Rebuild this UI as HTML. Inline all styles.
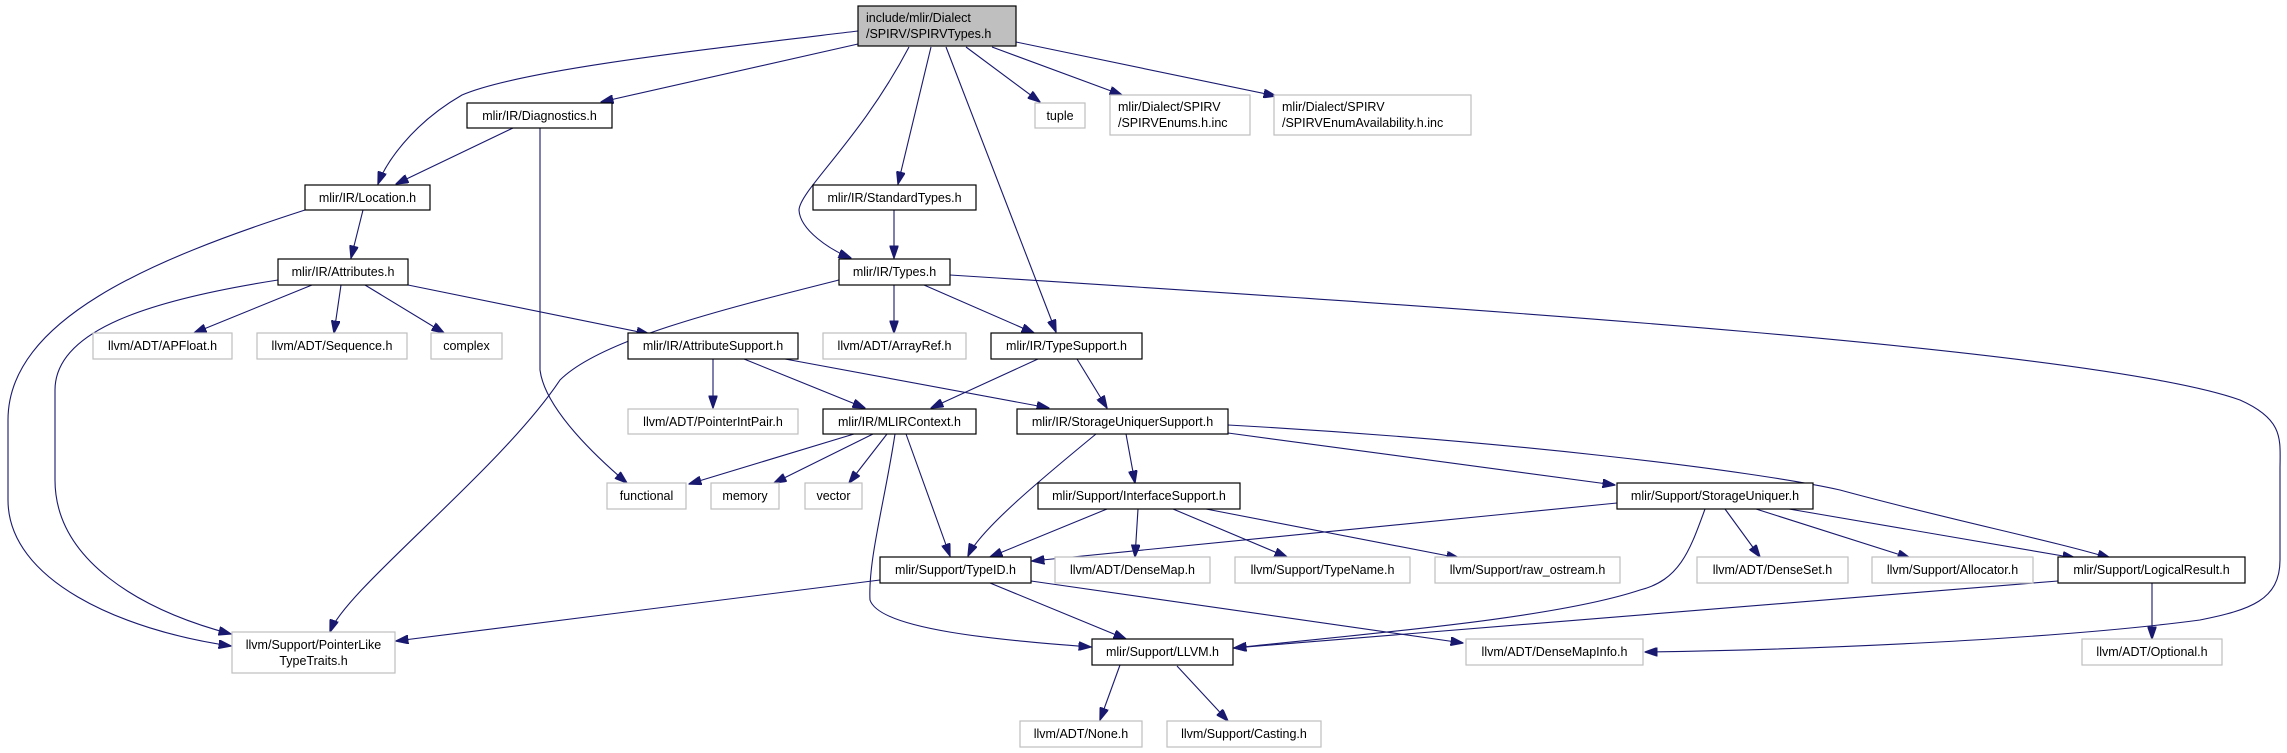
<!DOCTYPE html>
<html><head><meta charset="utf-8"><style>
html,body{margin:0;padding:0;background:#fff;}
svg{display:block;}
text{font-family:"Liberation Sans",sans-serif;font-size:12.5px;fill:#000;}
.n{fill:#fff;stroke:#000;stroke-width:1.2;}
.g{fill:#fff;stroke:#bfbfbf;stroke-width:1.2;}
.e{fill:none;stroke:#191970;stroke-width:1.1;}
</style></head><body>
<svg width="2287" height="753" viewBox="0 0 2287 753" xmlns="http://www.w3.org/2000/svg">
<defs><marker id="a" markerWidth="13" markerHeight="9" refX="12.5" refY="4.5" orient="auto" markerUnits="userSpaceOnUse"><path d="M0,0 L13,4.5 L0,9 z" fill="#191970" stroke="#191970"/></marker></defs>
<g marker-end="url(#a)" class="e">
<path class="e" d="M858,31 C700,50 520,70 462,95 C410,125 385,165 378,184"/>
<path class="e" d="M858,44 L601,102"/>
<path class="e" d="M909,47 C860,140 800,190 799,210 C800,230 830,250 851,258"/>
<path class="e" d="M931,47 L898,184"/>
<path class="e" d="M946,47 L1056,332"/>
<path class="e" d="M966,47 L1040,102"/>
<path class="e" d="M992,47 L1122,95"/>
<path class="e" d="M1016,42 L1276,96"/>
<path class="e" d="M513,128 L396,184"/>
<path class="e" d="M540,128 L540,370 C545,410 600,460 627,483"/>
<path class="e" d="M305,210 C150,260 8,320 8,420 L8,500 C8,580 120,630 231,646"/>
<path class="e" d="M363,210 L351,258"/>
<path class="e" d="M278,280 C150,300 55,330 55,390 L55,480 C55,560 140,610 231,634"/>
<path class="e" d="M312,285 L194,333"/>
<path class="e" d="M341,285 L334,333"/>
<path class="e" d="M365,285 L444,333"/>
<path class="e" d="M408,285 L649,334"/>
<path class="e" d="M839,280 C720,310 600,340 560,380 C500,470 345,590 330,632"/>
<path class="e" d="M894,285 L894,333"/>
<path class="e" d="M924,285 L1034,333"/>
<path class="e" d="M950,275 C1500,310 2100,350 2240,400 C2285,420 2280,440 2280,470 L2280,560 C2280,600 2250,610 2200,620 C2050,640 1800,650 1645,652"/>
<path class="e" d="M894,210 L894,258"/>
<path class="e" d="M713,359 L713,408"/>
<path class="e" d="M744,359 L865,408"/>
<path class="e" d="M785,359 L1049,408"/>
<path class="e" d="M1038,359 L931,408"/>
<path class="e" d="M1077,359 L1107,408"/>
<path class="e" d="M854,434 L689,484"/>
<path class="e" d="M873,434 L774,483"/>
<path class="e" d="M887,434 L849,483"/>
<path class="e" d="M906,434 L950,556"/>
<path class="e" d="M895,434 C885,500 868,560 870,600 C880,630 1000,640 1091,647"/>
<path class="e" d="M1096,434 C1040,480 980,530 968,556"/>
<path class="e" d="M1126,434 L1135,483"/>
<path class="e" d="M1228,433 L1615,485"/>
<path class="e" d="M1228,425 C1500,440 1750,470 1840,490 C1950,520 2050,540 2110,558"/>
<path class="e" d="M1107,509 L990,557"/>
<path class="e" d="M1138,509 L1135,557"/>
<path class="e" d="M1173,509 L1287,557"/>
<path class="e" d="M1206,509 L1459,558"/>
<path class="e" d="M1617,503 L1032,561"/>
<path class="e" d="M1705,509 C1690,550 1680,580 1640,590 C1550,620 1350,635 1234,648"/>
<path class="e" d="M1725,509 L1760,557"/>
<path class="e" d="M1756,509 L1910,558"/>
<path class="e" d="M1789,509 L2075,558"/>
<path class="e" d="M880,580 L396,641"/>
<path class="e" d="M990,583 L1126,639"/>
<path class="e" d="M1031,581 L1463,643"/>
<path class="e" d="M2058,581 L1234,648"/>
<path class="e" d="M2152,583 L2152,639"/>
<path class="e" d="M1120,665 L1100,720"/>
<path class="e" d="M1177,666 L1228,721"/>
</g>
<rect x="858" y="6" width="158" height="40" fill="#bfbfbf" stroke="#000" stroke-width="1.2"/>
<text x="866" y="22">include/mlir/Dialect</text><text x="866" y="38">/SPIRV/SPIRVTypes.h</text>
<rect class="n" x="467" y="103" width="145" height="25"/><text x="539.5" y="120" text-anchor="middle">mlir/IR/Diagnostics.h</text>
<rect class="g" x="1035" y="103" width="50" height="25"/><text x="1060" y="120" text-anchor="middle">tuple</text>
<rect class="g" x="1110" y="95" width="140" height="40"/><text x="1118" y="111">mlir/Dialect/SPIRV</text><text x="1118" y="127">/SPIRVEnums.h.inc</text>
<rect class="g" x="1274" y="95" width="197" height="40"/><text x="1282" y="111">mlir/Dialect/SPIRV</text><text x="1282" y="127">/SPIRVEnumAvailability.h.inc</text>
<rect class="n" x="305" y="185" width="125" height="25"/><text x="367.5" y="202" text-anchor="middle">mlir/IR/Location.h</text>
<rect class="n" x="813" y="185" width="163" height="25"/><text x="894.5" y="202" text-anchor="middle">mlir/IR/StandardTypes.h</text>
<rect class="n" x="278" y="259" width="130" height="26"/><text x="343" y="276" text-anchor="middle">mlir/IR/Attributes.h</text>
<rect class="n" x="839" y="259" width="111" height="26"/><text x="894.5" y="276" text-anchor="middle">mlir/IR/Types.h</text>
<rect class="g" x="93" y="333" width="139" height="26"/><text x="162.5" y="350" text-anchor="middle">llvm/ADT/APFloat.h</text>
<rect class="g" x="257" y="333" width="150" height="26"/><text x="332" y="350" text-anchor="middle">llvm/ADT/Sequence.h</text>
<rect class="g" x="431" y="333" width="71" height="26"/><text x="466.5" y="350" text-anchor="middle">complex</text>
<rect class="n" x="628" y="333" width="170" height="26"/><text x="713" y="350" text-anchor="middle">mlir/IR/AttributeSupport.h</text>
<rect class="g" x="823" y="333" width="143" height="26"/><text x="894.5" y="350" text-anchor="middle">llvm/ADT/ArrayRef.h</text>
<rect class="n" x="991" y="333" width="151" height="26"/><text x="1066.5" y="350" text-anchor="middle">mlir/IR/TypeSupport.h</text>
<rect class="g" x="628" y="409" width="170" height="25"/><text x="713" y="426" text-anchor="middle">llvm/ADT/PointerIntPair.h</text>
<rect class="n" x="823" y="409" width="153" height="25"/><text x="899.5" y="426" text-anchor="middle">mlir/IR/MLIRContext.h</text>
<rect class="n" x="1017" y="409" width="211" height="25"/><text x="1122.5" y="426" text-anchor="middle">mlir/IR/StorageUniquerSupport.h</text>
<rect class="g" x="607" y="483" width="79" height="26"/><text x="646.5" y="500" text-anchor="middle">functional</text>
<rect class="g" x="711" y="483" width="68" height="26"/><text x="745" y="500" text-anchor="middle">memory</text>
<rect class="g" x="805" y="483" width="57" height="26"/><text x="833.5" y="500" text-anchor="middle">vector</text>
<rect class="n" x="1038" y="483" width="202" height="26"/><text x="1139" y="500" text-anchor="middle">mlir/Support/InterfaceSupport.h</text>
<rect class="n" x="1617" y="483" width="196" height="26"/><text x="1715" y="500" text-anchor="middle">mlir/Support/StorageUniquer.h</text>
<rect class="n" x="880" y="557" width="151" height="26"/><text x="955.5" y="574" text-anchor="middle">mlir/Support/TypeID.h</text>
<rect class="g" x="1055" y="557" width="155" height="26"/><text x="1132.5" y="574" text-anchor="middle">llvm/ADT/DenseMap.h</text>
<rect class="g" x="1235" y="557" width="175" height="26"/><text x="1322.5" y="574" text-anchor="middle">llvm/Support/TypeName.h</text>
<rect class="g" x="1435" y="557" width="185" height="26"/><text x="1527.5" y="574" text-anchor="middle">llvm/Support/raw_ostream.h</text>
<rect class="g" x="1697" y="557" width="151" height="26"/><text x="1772.5" y="574" text-anchor="middle">llvm/ADT/DenseSet.h</text>
<rect class="g" x="1872" y="557" width="161" height="26"/><text x="1952.5" y="574" text-anchor="middle">llvm/Support/Allocator.h</text>
<rect class="n" x="2058" y="557" width="187" height="26"/><text x="2151.5" y="574" text-anchor="middle">mlir/Support/LogicalResult.h</text>
<rect class="g" x="232" y="632" width="163" height="41"/><text x="313.5" y="649" text-anchor="middle">llvm/Support/PointerLike</text><text x="313.5" y="665" text-anchor="middle">TypeTraits.h</text>
<rect class="n" x="1092" y="639" width="141" height="26"/><text x="1162.5" y="656" text-anchor="middle">mlir/Support/LLVM.h</text>
<rect class="g" x="1466" y="639" width="177" height="26"/><text x="1554.5" y="656" text-anchor="middle">llvm/ADT/DenseMapInfo.h</text>
<rect class="g" x="2082" y="639" width="140" height="26"/><text x="2152" y="656" text-anchor="middle">llvm/ADT/Optional.h</text>
<rect class="g" x="1020" y="721" width="122" height="26"/><text x="1081" y="738" text-anchor="middle">llvm/ADT/None.h</text>
<rect class="g" x="1167" y="721" width="154" height="26"/><text x="1244" y="738" text-anchor="middle">llvm/Support/Casting.h</text>
</svg>
</body></html>
